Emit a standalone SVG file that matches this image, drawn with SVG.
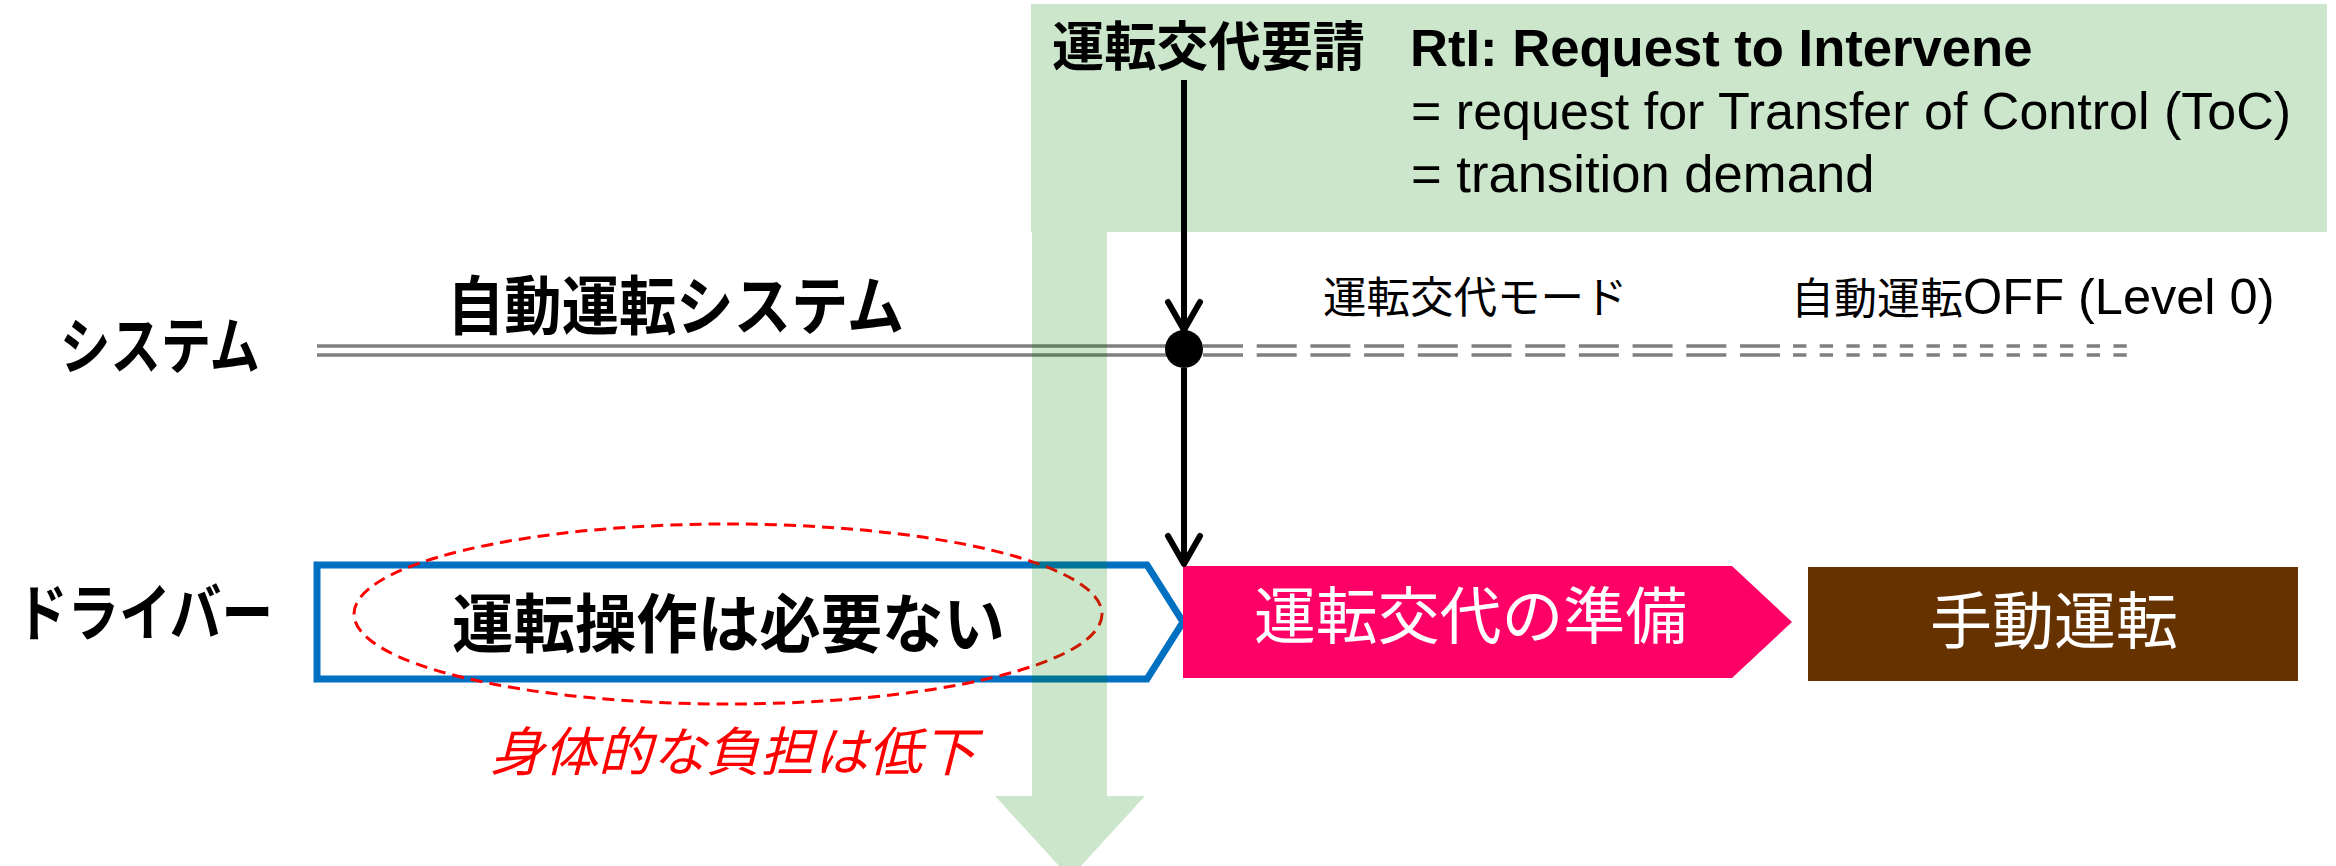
<svg xmlns="http://www.w3.org/2000/svg" width="2336" height="866" viewBox="0 0 2336 866">
<style>
.jp{font-family:'Noto Sans CJK JP','Noto Sans CJK SC',sans-serif;}
.lat{font-family:'Liberation Sans',Arial,'Noto Sans CJK JP',sans-serif;}
.b{font-weight:bold;}
.sysl{stroke:#7f7f7f;stroke-width:3.5;fill:none;}
.conn{stroke:#000;stroke-width:6;fill:none;}
.green{fill:#008000;fill-opacity:0.2;}
</style>
<defs>
<marker id="vhead" markerUnits="userSpaceOnUse" orient="auto" refX="0" refY="0" markerWidth="40" markerHeight="40" overflow="visible">
<path d="M-28,-16 L0,0 L-28,16" fill="none" stroke="#000" stroke-width="6" stroke-linecap="round" stroke-linejoin="round"/>
</marker>
</defs>
<rect width="2336" height="866" fill="#fff"/>

<g id="request-box">
<rect x="1031" y="4" width="1296" height="228" class="green"/>
<text class="jp b" x="1052" y="66" font-size="53" textLength="313" lengthAdjust="spacingAndGlyphs">運転交代要請</text>
<text class="lat b" x="1410" y="66" font-size="52.6">RtI: Request to Intervene</text>
<text class="lat" x="1411" y="129" font-size="52">= request for Transfer of Control (ToC)</text>
<text class="lat" x="1411" y="192" font-size="52.6">= transition demand</text>
</g>

<g id="system-label">
<text class="jp b" x="60" y="369" font-size="62" textLength="200" lengthAdjust="spacingAndGlyphs">システム</text>
</g>
<g id="driver-label">
<text class="jp b" x="16" y="636" font-size="62" textLength="257" lengthAdjust="spacingAndGlyphs">ドライバー</text>
</g>

<g id="timeline">
<line x1="317" y1="346" x2="1184" y2="346" class="sysl"/>
<line x1="317" y1="355" x2="1184" y2="355" class="sysl"/>
<line x1="1203" y1="346" x2="1780" y2="346" class="sysl" stroke-dasharray="40 13.7"/>
<line x1="1203" y1="355" x2="1780" y2="355" class="sysl" stroke-dasharray="40 13.7"/>
<line x1="1793" y1="346" x2="2127" y2="346" class="sysl" stroke-dasharray="13.35 13.35"/>
<line x1="1793" y1="355" x2="2127" y2="355" class="sysl" stroke-dasharray="13.35 13.35"/>
</g>

<g id="auto-system">
<text class="jp b" x="447" y="329" font-size="64" textLength="457" lengthAdjust="spacingAndGlyphs">自動運転システム</text>
</g>
<g id="toc-mode">
<text class="jp" x="1323" y="313" font-size="43.5">運転交代モード</text>
</g>
<g id="auto-off">
<text x="1791" y="314"><tspan class="jp" font-size="43">自動運転</tspan><tspan class="lat" font-size="50.5">OFF (Level 0)</tspan></text>
</g>

<g id="no-operation">
<polygon points="317,565 1147,565 1183,622 1147,679 317,679" fill="#fff" stroke="#0070c0" stroke-width="7"/>
<text class="jp b" x="452" y="647" font-size="64" textLength="553" lengthAdjust="spacingAndGlyphs">運転操作は必要ない</text>
</g>

<g id="burden-note">
<ellipse cx="728" cy="614" rx="374" ry="90" fill="none" stroke="#ff0000" stroke-width="3" stroke-dasharray="12 7"/>
<text class="jp" x="490" y="771" font-size="53" font-style="italic" fill="#ff0000" textLength="486" lengthAdjust="spacingAndGlyphs">身体的な負担は低下</text>
</g>

<g id="prepare-toc">
<polygon points="1183,566 1732,566 1792,622 1732,678 1183,678" fill="#ff0066"/>
<text class="jp" x="1254" y="639" font-size="62" fill="#fff" textLength="433" lengthAdjust="spacingAndGlyphs">運転交代の準備</text>
</g>

<g id="manual-driving">
<rect x="1808" y="567" width="490" height="114" fill="#663300"/>
<text class="jp" x="2054" y="644" font-size="62" fill="#fff" text-anchor="middle">手動運転</text>
</g>

<g id="time-arrow">
<polygon points="1032,232 1107,232 1107,796 1145,796 1070,878 995,796 1032,796" class="green"/>
</g>

<g id="connectors">
<path d="M1184,80 L1184,330" class="conn" marker-end="url(#vhead)"/>
<path d="M1184,368 L1184,564" class="conn" marker-end="url(#vhead)"/>
<circle cx="1184" cy="349" r="19" fill="#000"/>
</g>
</svg>
